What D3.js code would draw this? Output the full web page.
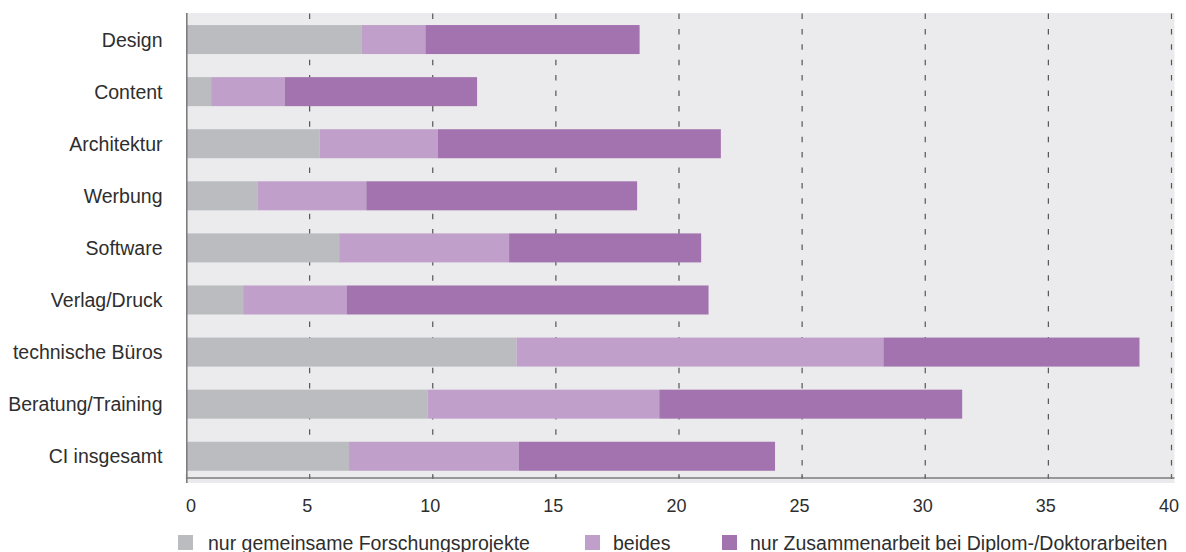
<!DOCTYPE html>
<html>
<head>
<meta charset="utf-8">
<script src="https://cdn.jsdelivr.net/npm/d3@7"></script>
<style>
  html, body { margin: 0; padding: 0; background: #fff; }
  svg { display: block; font-family: "Liberation Sans", Arial, sans-serif; }
</style>
</head>
<body>
<svg id="chart" width="1186" height="552"></svg>
<script>
// ---- data ----
const categories = ["Design", "Content", "Architektur", "Werbung", "Software",
  "Verlag/Druck", "technische Büros", "Beratung/Training", "CI insgesamt"];
const seriesNames = ["nur gemeinsame Forschungsprojekte", "beides",
  "nur Zusammenarbeit bei Diplom-/Doktorarbeiten"];
const onlyResearch = [7.1, 1.0, 5.4, 2.9, 6.2, 2.3, 13.4, 9.8, 6.6];
const both         = [2.6, 3.0, 4.8, 4.4, 6.9, 4.2, 14.9, 9.4, 6.9];
const onlyTheses   = [8.7, 7.8, 11.5, 11.0, 7.8, 14.7, 10.4, 12.3, 10.4];
const xTicks = [0, 5, 10, 15, 20, 25, 30, 35, 40];
const colors = ["#bbbcbf", "#c0a0cb", "#a373b0"];

// ---- layout ----
const svg = d3.select("#chart");
const plotLeft = 186.5, plotRight = 1171.5, plotTop = 13.5, plotBottom = 482.3;
const axisY = 478;

const x = d3.scaleLinear().domain([0, 40]).range([plotLeft, plotRight]);
const y = d3.scaleBand().domain(categories).range([plotTop, plotBottom])
  .paddingInner(0.443).paddingOuter(0.2215);

// background
svg.append("rect")
  .attr("x", plotLeft).attr("y", 13)
  .attr("width", 1174.5 - plotLeft).attr("height", 483 - 13)
  .attr("fill", "#ebebed");

// gridlines
svg.append("g").selectAll("line")
  .data(xTicks.filter(d => d > 0))
  .join("line")
  .attr("x1", d => x(d)).attr("x2", d => x(d))
  .attr("y1", 13.5).attr("y2", axisY)
  .attr("stroke", "#555")
  .attr("stroke-width", 1.2)
  .attr("stroke-dasharray", "5.5,9.9");

// stacked bars
const stackData = categories.map((c, i) => {
  const vals = [onlyResearch[i], both[i], onlyTheses[i]];
  const o = { cat: c };
  seriesNames.forEach((s, k) => o[s] = vals[k]);
  return o;
});
const stack = d3.stack().keys(seriesNames)(stackData);

svg.append("g").selectAll("g")
  .data(stack)
  .join("g")
  .attr("fill", (d, i) => colors[i])
  .selectAll("rect")
  .data(d => d)
  .join("rect")
  .attr("x", d => x(d[0]))
  .attr("width", d => x(d[1]) - x(d[0]))
  .attr("y", d => y(d.data.cat))
  .attr("height", y.bandwidth());

// x axis
const xAxis = d3.axisBottom(x).tickValues(xTicks).tickSize(0).tickPadding(0);
const gx = svg.append("g").attr("transform", `translate(0,${axisY})`).call(xAxis);
gx.select(".domain").remove();
gx.selectAll("text")
  .attr("y", 34).attr("dy", null)
  .attr("dx", d => d === 0 ? 4 : -3)
  .attr("fill", "#2e2e2e")
  .style("font-size", "18px")
  .style("font-family", "'Liberation Sans', Arial, sans-serif");
svg.append("line")
  .attr("x1", plotLeft).attr("x2", 1174.5)
  .attr("y1", axisY).attr("y2", axisY)
  .attr("stroke", "#7d7d7d").attr("stroke-width", 1.6);
svg.append("g").selectAll("line")
  .data(xTicks)
  .join("line")
  .attr("x1", d => x(d)).attr("x2", d => x(d))
  .attr("y1", axisY - 4).attr("y2", axisY + 1)
  .attr("stroke", "#6a6a6a").attr("stroke-width", 1.2);

// y axis line
svg.append("line")
  .attr("x1", plotLeft + 0.3).attr("x2", plotLeft + 0.3)
  .attr("y1", 13).attr("y2", 483)
  .attr("stroke", "#7d7d7d").attr("stroke-width", 1.6);

// category labels
const yAxis = d3.axisLeft(y).tickSize(0).tickPadding(0);
const gy = svg.append("g").attr("transform", `translate(${plotLeft - 24},0)`).call(yAxis);
gy.select(".domain").remove();
gy.selectAll("text")
  .attr("fill", "#2e2e2e")
  .attr("dy", "0.36em")
  .style("font-size", "19.5px")
  .style("font-family", "'Liberation Sans', Arial, sans-serif");

// legend
const legendX = [178, 585, 722];
const lg = svg.append("g").selectAll("g")
  .data(seriesNames)
  .join("g")
  .attr("transform", (d, i) => `translate(${legendX[i]},535)`);
lg.append("rect").attr("width", 15).attr("height", 15)
  .attr("fill", (d, i) => colors[i]);
lg.append("text")
  .attr("x", (d, i) => i === 0 ? 30 : 28)
  .attr("y", 14.5)
  .attr("fill", "#2e2e2e")
  .style("font-size", "19.5px")
  .text(d => d);
</script>
</body>
</html>
